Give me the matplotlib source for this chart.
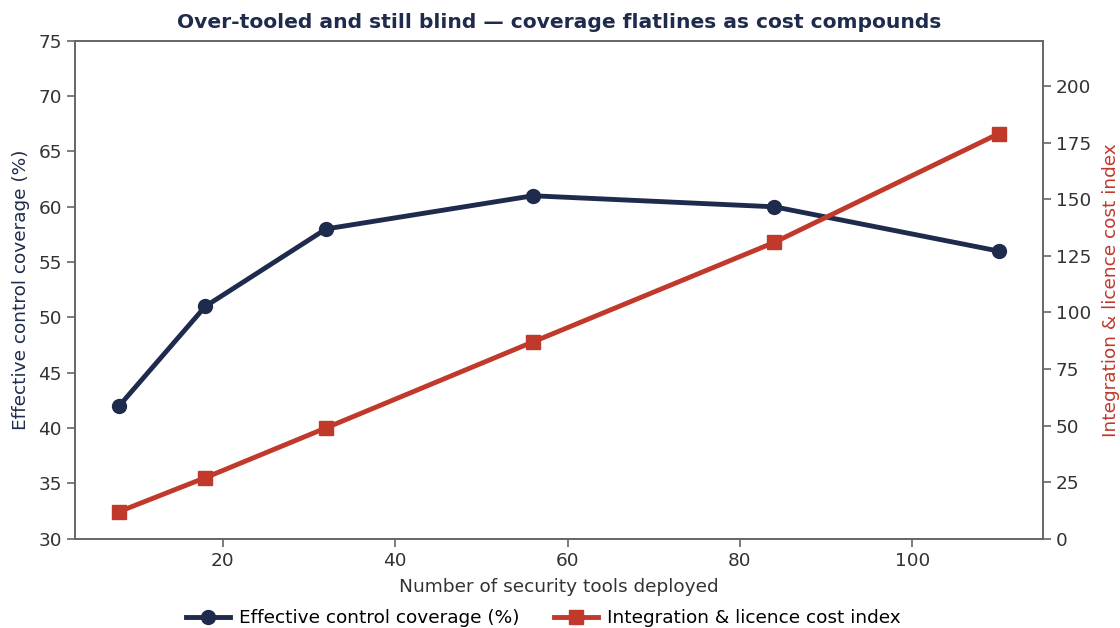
import matplotlib
matplotlib.use("Agg")
import matplotlib.pyplot as plt

tools_deployed = [8, 18, 32, 56, 84, 110]
coverage_pct = [42, 51, 58, 61, 60, 56]
cost_index = [12, 27, 49, 87, 131, 179]

navy = "#1f2b4d"
red = "#c0392b"
grey = "#666666"
text_grey = "#333333"

plt.rcParams["font.family"] = "DejaVu Sans"

fig, ax = plt.subplots(figsize=(11.2, 6.28), dpi=100)
ax2 = ax.twinx()

l1, = ax.plot(tools_deployed, coverage_pct, color=navy, lw=3.5, marker="o",
              markersize=10, label="Effective control coverage (%)")
l2, = ax2.plot(tools_deployed, cost_index, color=red, lw=3.5, marker="s",
               markersize=10, label="Integration & licence cost index")

ax.set_ylim(30, 75)
ax2.set_ylim(0, 220)
ax.set_xlabel("Number of security tools deployed", fontsize=13.3, color=text_grey,
              labelpad=6)
ax.set_ylabel("Effective control coverage (%)", fontsize=13.3, color=navy, labelpad=6)
ax2.set_ylabel("Integration & licence cost index", fontsize=13.3, color=red, labelpad=8)
ax.set_title("Over-tooled and still blind — coverage flatlines as cost compounds",
             fontsize=14.6, fontweight="bold", color=navy, pad=9)

for a in (ax, ax2):
    for s in a.spines.values():
        s.set_color(grey)
        s.set_linewidth(1.2)
    a.tick_params(labelsize=13.3, colors=grey, labelcolor=text_grey, length=6, width=1.2)

fig.legend(handles=[l1, l2], loc="lower center", ncol=2, frameon=False,
           fontsize=13.3, handlelength=2.4, handletextpad=0.45, columnspacing=1.9,
           bbox_to_anchor=(0.485, -0.025))

fig.subplots_adjust(left=0.067, right=0.931, top=0.935, bottom=0.142)
fig.savefig("out.png")
